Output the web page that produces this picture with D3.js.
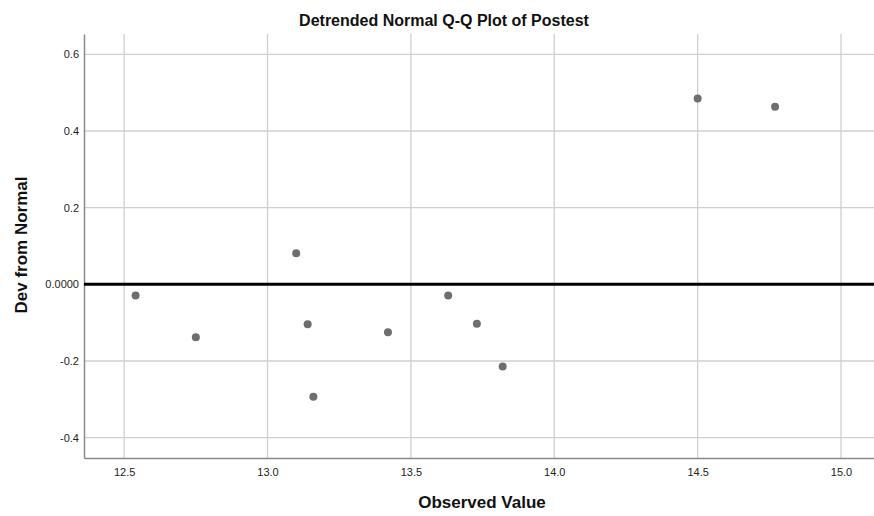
<!DOCTYPE html>
<html>
<head>
<meta charset="utf-8">
<script src="https://cdn.jsdelivr.net/npm/d3@7"></script>
<style>
html,body{margin:0;padding:0;background:#fff;}
svg{display:block;font-family:"Liberation Sans",Arial,sans-serif;}
</style>
</head>
<body>
<svg id="chart" width="874" height="516"></svg>
<script>
const observed = [12.54, 12.75, 13.10, 13.14, 13.16, 13.42, 13.63, 13.73, 13.82, 14.50, 14.77];
const devFromNormal = [-0.029, -0.138, 0.081, -0.104, -0.293, -0.125, -0.029, -0.103, -0.214, 0.485, 0.463];
const xTicks = [12.5, 13.0, 13.5, 14.0, 14.5, 15.0];
const yTicks = [0.6, 0.4, 0.2, 0.0, -0.2, -0.4];
const yTickLabels = ["0.6", "0.4", "0.2", "0.0000", "-0.2", "-0.4"];
const titleText = "Detrended Normal Q-Q Plot of Postest";
const xTitle = "Observed Value";
const yTitle = "Dev from Normal";

const svg = d3.select("#chart");
const L = 84, R = 874, T = 34, B = 458;
const x = d3.scaleLinear().domain([12.36, 15.115]).range([L, R]);
const y = d3.scaleLinear().domain([-0.453, 0.653]).range([B, T]);

// gridlines
svg.append("g").selectAll("line").data(yTicks).join("line")
  .attr("x1", L).attr("x2", R)
  .attr("y1", d => y(d)).attr("y2", d => y(d))
  .attr("stroke", "#d0d0d0").attr("stroke-width", 1.3);
svg.append("g").selectAll("line").data(xTicks).join("line")
  .attr("y1", T).attr("y2", B)
  .attr("x1", d => x(d)).attr("x2", d => x(d))
  .attr("stroke", "#d0d0d0").attr("stroke-width", 1.3);

// axes
const xAxis = d3.axisBottom(x).tickValues(xTicks).tickFormat(d3.format(".1f")).tickSize(0).tickPadding(10);
const gx = svg.append("g").attr("transform", `translate(0,${B})`).call(xAxis);
gx.select(".domain").attr("stroke", "#8a8a8a").attr("stroke-width", 1.5);
gx.selectAll("text").attr("font-size", "11px").attr("fill", "#222").attr("font-family", "Liberation Sans, Arial, sans-serif");

const yAxis = d3.axisLeft(y).tickValues(yTicks).tickFormat((d, i) => yTickLabels[i]).tickSize(0).tickPadding(5);
const gy = svg.append("g").attr("transform", `translate(${L},0)`).call(yAxis);
gy.select(".domain").attr("stroke", "#8a8a8a").attr("stroke-width", 1.5);
gy.selectAll("text").attr("font-size", "11px").attr("fill", "#222").attr("font-family", "Liberation Sans, Arial, sans-serif");

// zero reference line
svg.append("line")
  .attr("x1", L).attr("x2", R)
  .attr("y1", y(0)).attr("y2", y(0))
  .attr("stroke", "#000").attr("stroke-width", 3);

// points
svg.append("g").selectAll("circle").data(observed.map((v, i) => [v, devFromNormal[i]])).join("circle")
  .attr("cx", d => x(d[0])).attr("cy", d => y(d[1]))
  .attr("r", 4).attr("fill", "#6e6e6e");

// titles
svg.append("text").attr("x", 444).attr("y", 26).attr("text-anchor", "middle")
  .attr("font-size", "16px").attr("font-weight", "bold").attr("fill", "#111").text(titleText);
svg.append("text").attr("x", 482).attr("y", 508).attr("text-anchor", "middle")
  .attr("font-size", "17px").attr("font-weight", "bold").attr("fill", "#111").text(xTitle);
svg.append("text").attr("transform", "translate(27,245) rotate(-90)").attr("text-anchor", "middle")
  .attr("font-size", "17px").attr("font-weight", "bold").attr("fill", "#111").text(yTitle);
</script>
</body>
</html>
